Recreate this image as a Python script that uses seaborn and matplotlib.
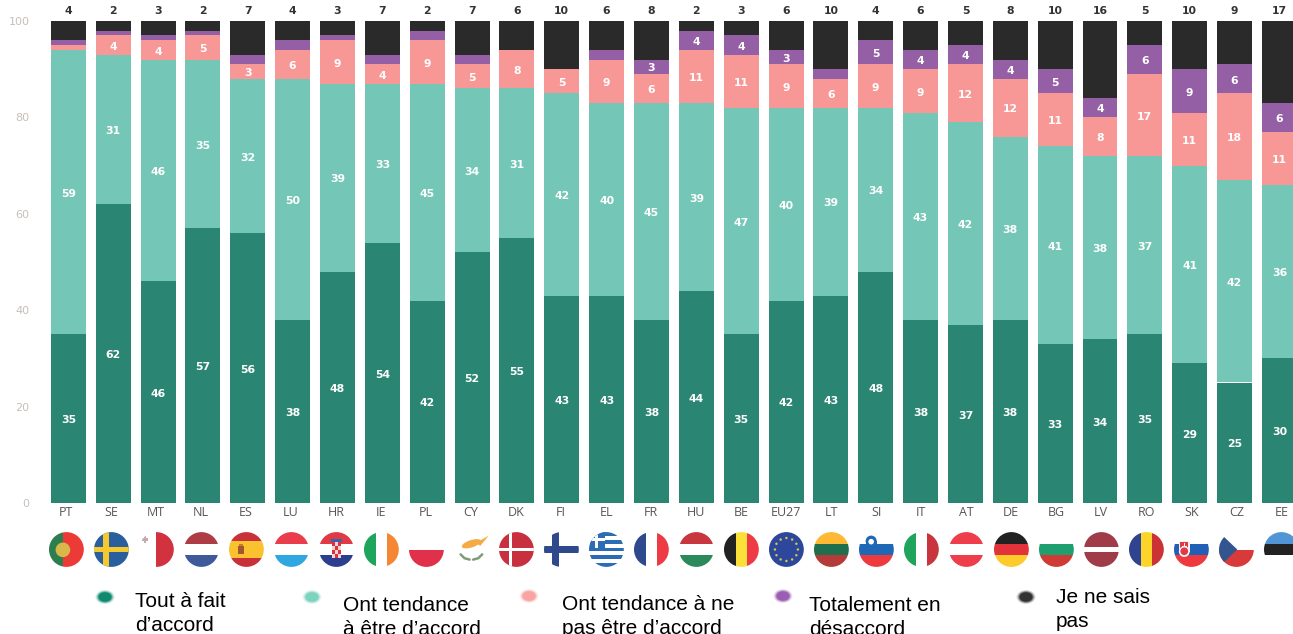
import numpy as np
import pandas as pd
import seaborn as sns
import matplotlib
matplotlib.use("Agg")
import matplotlib.pyplot as plt
from matplotlib.patches import Circle, Ellipse, Polygon, Rectangle

# Survey answers per country, in percent
countries = ["PT", "SE", "MT", "NL", "ES", "LU", "HR", "IE", "PL", "CY", "DK", "FI", "EL", "FR",
             "HU", "BE", "EU27", "LT", "SI", "IT", "AT", "DE", "BG", "LV", "RO", "SK", "CZ", "EE"]
fully_agree = [35, 62, 46, 57, 56, 38, 48, 54, 42, 52, 55, 43, 43, 38,
               44, 35, 42, 43, 48, 38, 37, 38, 33, 34, 35, 29, 25, 30]
tend_agree = [59, 31, 46, 35, 32, 50, 39, 33, 45, 34, 31, 42, 40, 45,
              39, 47, 40, 39, 34, 43, 42, 38, 41, 38, 37, 41, 42, 36]
tend_disagree = [1, 4, 4, 5, 3, 6, 9, 4, 9, 5, 8, 5, 9, 6,
                 11, 11, 9, 6, 9, 9, 12, 12, 11, 8, 17, 11, 18, 11]
fully_disagree = [1, 1, 1, 1, 2, 2, 1, 2, 2, 2, 0, 0, 2, 3,
                  4, 4, 3, 2, 5, 4, 4, 4, 5, 4, 6, 9, 6, 6]
dont_know = [4, 2, 3, 2, 7, 4, 3, 7, 2, 7, 6, 10, 6, 8,
             2, 3, 6, 10, 4, 6, 5, 8, 10, 16, 5, 10, 9, 17]

series_names = ["fully_agree", "tend_agree", "tend_disagree", "fully_disagree", "dont_know"]
series_colors = ["#2a8672", "#74c6b7", "#f79796", "#955fa5", "#2a2a2a"]
legend_labels = ["Tout à fait\nd’accord", "Ont tendance\nà être d’accord",
                 "Ont tendance à ne\npas être d’accord", "Totalement en\ndésaccord",
                 "Je ne sais\npas"]
legend_dots = ["#0f8a70", "#7dd3bd", "#f9a3a3", "#9a5fb2", "#333333"]

df = pd.DataFrame({"country": countries, "fully_agree": fully_agree, "tend_agree": tend_agree,
                   "tend_disagree": tend_disagree, "fully_disagree": fully_disagree,
                   "dont_know": dont_know})

W, H = 1293, 634
sns.set_theme(style="white")
fig = plt.figure(figsize=(W / 100, H / 100), dpi=100, facecolor="white")

# Main axes, placed in pixels; the last bar runs off the right edge
left, right, top, bottom = 46, 1293, 21, 503
ax = fig.add_axes([left / W, 1 - bottom / H, (right - left) / W, (bottom - top) / H])

base = np.zeros(len(df))
for name, color in zip(series_names, series_colors):
    values = df[name].to_numpy(dtype=float)
    sns.barplot(data=df, x="country", y=name, bottom=base, color=color, saturation=1,
                width=0.78, linewidth=0, ax=ax, order=countries)
    for i, (v, b) in enumerate(zip(values, base)):
        if name == "dont_know":
            ax.text(i, 101.1, f"{v:.0f}", ha="center", va="bottom", color="#333333",
                    fontsize=7.8, fontweight="bold", clip_on=False)
        elif v >= 3:
            ax.text(i, b + v / 2 - 0.35, f"{v:.0f}", ha="center", va="center", color="white",
                    fontsize=7.8, fontweight="bold")
    base += values

step = 44.83
ax.set_xlim(-0.5, (right - 69) / step)
ax.set_ylim(0, 100)
ax.set_xlabel("")
ax.set_ylabel("")
ax.set_yticks(range(0, 101, 20))
ax.tick_params(axis="y", length=0, pad=12, labelsize=8, labelcolor="#c8bfb9")
sns.despine(ax=ax, left=True, bottom=True, top=True, right=True)

# Labels and flags sit on a slightly wider pitch than the bars
tick_px = 66.4 + 45.0 * np.arange(len(countries))
ax.set_xticks((tick_px - 69) / step)
ax.set_xticklabels(countries)
ax.tick_params(axis="x", length=0, pad=2, labelsize=9, labelcolor="#555555")
for lab in ax.get_xticklabels():
    lab.set_fontfamily("Open Sans")

# Overlay in pixel units for the flags and the key
ov = fig.add_axes([0, 0, 1, 1], facecolor="none")
ov.set_xlim(0, W)
ov.set_ylim(H, 0)
ov.axis("off")

GREEN, BLUE = "#1fa45c", "#2f4a8c"
flag_bands = {
    "PT": ("v", [("#2e7d4f", .4), ("#ec3a36", .6)]),
    "SE": ("h", [("#2a5f9e", 1)]),
    "MT": ("v", [("white", .5), ("#d2323f", .5)]),
    "NL": ("h", [("#ad3c45", .34), ("white", .32), ("#3f5a9b", .34)]),
    "ES": ("h", [("#c8313a", .25), ("#f9c22e", .5), ("#c8313a", .25)]),
    "LU": ("h", [("#ea3d4b", .34), ("white", .32), ("#2fa7e0", .34)]),
    "HR": ("h", [("#e03a45", .34), ("white", .32), ("#2c3f8f", .34)]),
    "IE": ("v", [(GREEN, .34), ("white", .32), ("#f58634", .34)]),
    "PL": ("h", [("white", .5), ("#e0304a", .5)]),
    "CY": ("h", [("white", 1)]),
    "DK": ("h", [("#c8303f", 1)]),
    "FI": ("h", [("white", 1)]),
    "EL": ("h", [(c, 1 / 9) for c in ["#2b6cb5", "white"] * 4 + ["#2b6cb5"]]),
    "FR": ("v", [(BLUE, .34), ("white", .32), ("#ee3a45", .34)]),
    "HU": ("h", [("#c8363f", .34), ("white", .32), ("#2b8a5a", .34)]),
    "BE": ("v", [("#222222", .34), ("#fce03a", .32), ("#ee3a45", .34)]),
    "EU27": ("h", [("#2c479c", 1)]),
    "LT": ("h", [("#fdb933", .34), ("#1f6f4f", .32), ("#b53a3a", .34)]),
    "SI": ("h", [("white", .34), ("#1f68b5", .32), ("#ee3a3f", .34)]),
    "IT": ("v", [(GREEN, .34), ("white", .32), ("#c8353f", .34)]),
    "AT": ("h", [("#ee3d4b", .34), ("white", .32), ("#ee3d4b", .34)]),
    "DE": ("h", [("#222222", .34), ("#e2333a", .32), ("#fdcb2c", .34)]),
    "BG": ("h", [("white", .34), ("#1f9e70", .32), ("#d03a35", .34)]),
    "LV": ("h", [("#a03c48", .42), ("white", .16), ("#a03c48", .42)]),
    "RO": ("v", [("#2f4390", .34), ("#fdd42a", .32), ("#cb3335", .34)]),
    "SK": ("h", [("white", .34), ("#2260b5", .32), ("#ee3a3f", .34)]),
    "CZ": ("h", [("white", .5), ("#d83a3a", .5)]),
    "EE": ("h", [("#5095d5", .34), ("#222222", .32), ("white", .34)]),
}


def add_details(code, cx, cy, r, clip):
    """Crosses and emblems laid over the plain bands of a flag."""
    def rect(x0, y0, x1, y1, color):
        p = Rectangle((cx + x0 * r, cy + y0 * r), (x1 - x0) * r, (y1 - y0) * r,
                      color=color, lw=0, zorder=3)
        ov.add_patch(p)
        p.set_clip_path(clip)

    def disc(x, y, rad, color, z=4):
        p = Circle((cx + x * r, cy + y * r), rad * r, color=color, lw=0, zorder=z)
        ov.add_patch(p)
        p.set_clip_path(clip)

    if code == "PT":
        disc(-.2, .02, .42, "#d9b84a")
        rect(-.36, -.2, -.04, .24, "#f3f1ea")
        rect(-.27, -.08, -.13, .12, "#8a9ab5")
    elif code == "SE":
        rect(-.5, -1, -.16, 1, "#f5c92e")
        rect(-1, -.17, 1, .17, "#f5c92e")
    elif code == "MT":
        rect(-.82, -.64, -.46, -.5, "#c9a9a9")
        rect(-.71, -.76, -.57, -.38, "#c9a9a9")
    elif code == "ES":
        rect(-.5, -.2, -.12, .26, "#a5552e")
        rect(-.42, -.3, -.2, -.18, "#c77a2a")
    elif code == "HR":
        rect(-.25, -.42, .25, .46, "#f3d5d5")
        for i in range(4):
            for j in range(3):
                if (i + j) % 2 == 0:
                    rect(-.25 + j * .17, -.42 + i * .22, -.08 + j * .17, -.2 + i * .22, "#d8343f")
        rect(-.3, -.62, .3, -.42, "#3d62ad")
    elif code == "CY":
        p = Ellipse((cx, cy - .33 * r), 1.15 * r, .42 * r, angle=-18, color="#f5ab45", lw=0, zorder=3)
        ov.add_patch(p)
        p2 = Polygon([(cx + .3 * r, cy - .4 * r), (cx + 1.0 * r, cy - .8 * r), (cx + .5 * r, cy - .2 * r)],
                     color="#f5ab45", lw=0, zorder=3)
        ov.add_patch(p2)
        for s in (-1, 1):
            ov.plot([cx + s * .1 * r, cx + s * .4 * r, cx + s * .62 * r],
                    [cy + .58 * r, cy + .5 * r, cy + .28 * r],
                    color="#7f9c78", lw=1.8, zorder=3, solid_capstyle="round")
    elif code == "DK":
        rect(-.44, -1, -.24, 1, "white")
        rect(-1, -.1, 1, .1, "white")
    elif code == "FI":
        rect(-.56, -1, -.16, 1, BLUE)
        rect(-1, -.2, 1, .2, BLUE)
    elif code == "EL":
        rect(-1, -1, -.1, -.1, "#2b6cb5")
        rect(-.64, -1, -.46, -.1, "white")
        rect(-1, -.64, -.1, -.46, "white")
    elif code == "EU27":
        for a in np.deg2rad(np.arange(0, 360, 30)):
            disc(.66 * np.cos(a), .66 * np.sin(a), .07, "#d8c84a")
    elif code == "SI":
        disc(-.3, -.48, .32, "#1f68b5")
        rect(-.62, -.5, .02, -.1, "#1f68b5")
        disc(-.3, -.45, .16, "white", 5)
    elif code == "SK":
        rect(-.72, -.5, -.1, .12, "#f3f1f5")
        disc(-.41, .12, .31, "#f3f1f5")
        rect(-.63, -.42, -.19, .1, "#e23a42")
        disc(-.41, .1, .22, "#e23a42", 5)
        rect(-.45, -.36, -.37, .2, "#f6f6f6")
        rect(-.56, -.2, -.26, -.12, "#f6f6f6")
        rect(-.52, -.04, -.3, .03, "#f6f6f6")
    elif code == "CZ":
        p = Polygon([(cx - r, cy - r), (cx + .05 * r, cy), (cx - r, cy + r)], color="#33558f", lw=0, zorder=3)
        ov.add_patch(p)
        p.set_clip_path(clip)


flag_r = 17.4
flag_y = 549.5
for code, cx in zip(countries, tick_px):
    clip = Circle((cx, flag_y), flag_r, transform=ov.transData)
    direction, bands = flag_bands[code]
    pos = -flag_r
    for color, share in bands:
        span = 2 * flag_r * share
        if direction == "h":
            patch = Rectangle((cx - flag_r, flag_y + pos), 2 * flag_r, span, color=color, lw=0, zorder=2)
        else:
            patch = Rectangle((cx + pos, flag_y - flag_r), span, 2 * flag_r, color=color, lw=0, zorder=2)
        ov.add_patch(patch)
        patch.set_clip_path(clip)
        pos += span
    add_details(code, cx, flag_y, flag_r, clip)

# Key: soft dots with two-line labels
dot_xy = [(105, 597), (312, 597), (529, 596), (783, 596), (1026, 597)]
text_xy = [(135, 592), (343, 596), (562, 595), (809, 596), (1056, 588)]
for (dx, dy), (tx, ty), color, label in zip(dot_xy, text_xy, legend_dots, legend_labels):
    for w, h, a in [(19, 14, .15), (17, 12.5, .25), (15, 11, .5), (13, 9.5, 1)]:
        ov.add_patch(Ellipse((dx, dy), w, h, color=color, alpha=a, lw=0))
    ov.text(tx, ty, label, ha="left", va="top", color="black", fontsize=15,
            family="Liberation Sans", linespacing=1.35)

fig.savefig("out.png", dpi=100, facecolor="white")
